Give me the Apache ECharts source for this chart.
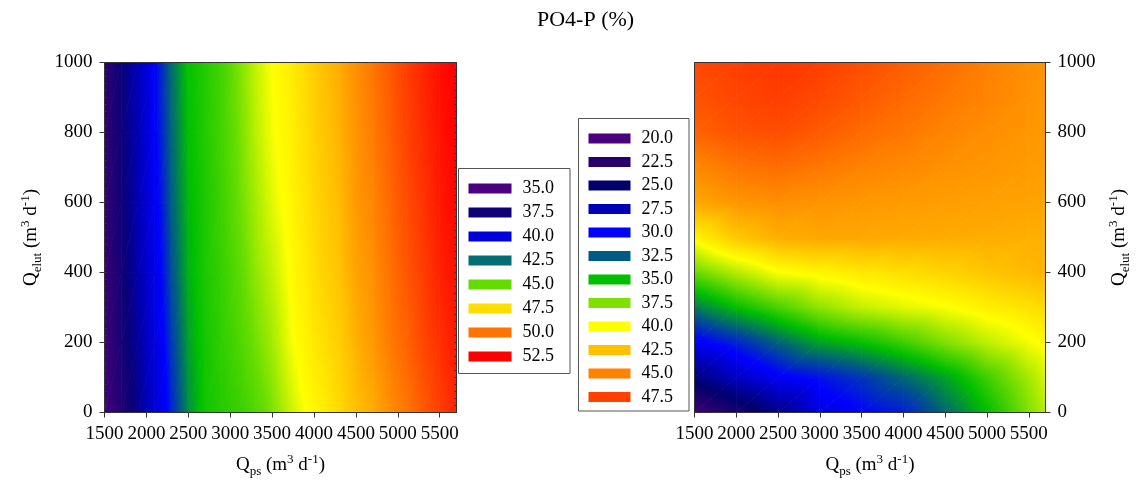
<!DOCTYPE html>
<html>
<head>
<meta charset="utf-8">
<script src="https://cdn.jsdelivr.net/npm/echarts@6/dist/echarts.min.js"></script>
<style>html,body{margin:0;padding:0;background:#fff}#main{width:1138px;height:484px}</style>
</head>
<body>
<div id="main"></div>
<script>
// --- data ---
var xTicks = [1500, 2000, 2500, 3000, 3500, 4000, 4500, 5000, 5500];
var yTicks = [0, 200, 400, 600, 800, 1000];

// left panel: PO4-P (%) on a grid of Qps (x) by Qelut (y)
var xLeft = [1500, 1700, 1900, 2100, 2300, 2500, 2700, 2900, 3100, 3300, 3500, 3700, 3900, 4100, 4300, 4500, 4700, 4900, 5100, 5300, 5500, 5700];
var yLeft = [0, 200, 400, 600, 800, 1000];
var zLeft = [
    [35.3, 36.6, 38.0, 39.7, 41.5, 42.9, 43.7, 44.0, 44.3, 44.7, 45.2, 45.9, 46.5, 47.0, 47.7, 48.5, 48.9, 49.5, 50.0, 50.6, 51.2, 51.7],
    [35.5, 36.9, 38.3, 40.1, 41.8, 43.1, 43.8, 44.2, 44.6, 45.1, 45.6, 46.3, 46.9, 47.5, 48.1, 48.8, 49.3, 49.9, 50.4, 51.0, 51.5, 52.0],
    [35.7, 37.1, 38.6, 40.4, 42.1, 43.3, 43.9, 44.3, 44.8, 45.4, 45.9, 46.5, 47.2, 47.9, 48.4, 49.1, 49.5, 50.1, 50.7, 51.2, 51.8, 52.2],
    [35.8, 37.3, 38.8, 40.7, 42.3, 43.4, 43.9, 44.4, 45.0, 45.6, 46.2, 46.7, 47.4, 48.1, 48.6, 49.3, 49.7, 50.3, 50.9, 51.4, 52.0, 52.4],
    [35.9, 37.4, 38.9, 40.9, 42.4, 43.5, 44.0, 44.5, 45.1, 45.8, 46.4, 46.9, 47.6, 48.3, 48.8, 49.4, 49.9, 50.5, 51.1, 51.6, 52.1, 52.5],
    [36.0, 37.5, 39.0, 41.0, 42.5, 43.6, 44.0, 44.5, 45.2, 45.9, 46.5, 47.0, 47.7, 48.5, 48.9, 49.5, 50.0, 50.6, 51.2, 51.7, 52.2, 52.6]
];
var levelsLeft = [35, 37.5, 40, 42.5, 45, 47.5, 50, 52.5];

// right panel
var xRight = [1500, 2000, 2500, 3000, 3500, 4000, 4500, 5000, 5500, 5700];
var yRight = [0, 100, 200, 300, 400, 500, 600, 700, 800, 900, 1000];
var zRight = [
    [21.0, 23.5, 26.0, 29.0, 30.0, 30.8, 32.8, 35.0, 37.5, 38.6],
    [25.6, 28.0, 29.7, 30.5, 31.5, 32.8, 34.3, 36.2, 38.2, 39.2],
    [29.6, 31.0, 32.7, 34.3, 35.1, 36.2, 37.5, 38.7, 39.8, 40.2],
    [33.3, 35.0, 36.4, 37.8, 38.8, 39.4, 39.9, 40.6, 41.2, 41.5],
    [37.0, 38.5, 39.9, 40.4, 40.9, 41.3, 41.7, 42.3, 42.8, 43.0],
    [40.4, 42.2, 43.2, 43.5, 43.5, 43.4, 43.3, 43.3, 43.2, 43.2],
    [43.5, 44.2, 44.5, 44.3, 44.1, 44.0, 43.9, 43.8, 43.7, 43.6],
    [44.7, 45.5, 45.8, 45.4, 45.0, 44.7, 44.4, 44.2, 44.0, 43.9],
    [46.2, 46.8, 47.0, 46.5, 45.9, 45.4, 44.9, 44.5, 44.2, 44.1],
    [46.8, 47.3, 47.6, 47.2, 46.6, 46.0, 45.4, 44.9, 44.4, 44.2],
    [47.2, 47.6, 47.9, 47.6, 47.0, 46.4, 45.8, 45.1, 44.5, 44.3]
];
var levelsRight = [20, 22.5, 25, 27.5, 30, 32.5, 35, 37.5, 40, 42.5, 45, 47.5];

// --- styles ---
var colorsLeft = ['#4b0082', '#0f0078', '#0000dc', '#006e73', '#64dc00', '#ffde00', '#ff7300', '#ff0000'];
var colorsRight = ['#4b007d', '#28006e', '#00006e', '#0000b4', '#0000ff', '#005a82', '#00be00', '#80e000', '#ffff00', '#ffc000', '#ff8200', '#ff4000'];
var rampLeft = [[35, '#4b0082'], [36.25, '#2a0075'], [37.5, '#0a0078'], [38.75, '#0000b0'], [40, '#0000dc'], [41, '#0000ff'],
    [42.5, '#006d6d'], [43.5, '#00c000'], [45, '#66dd00'], [46.5, '#ffff00'], [47.5, '#ffe000'], [48.5, '#ffc000'], [50, '#ff7700'], [52.5, '#ff0000']];
var rampRight = [[20, '#4b0082'], [22.5, '#28006e'], [25, '#00006e'], [27.5, '#0000b4'], [30, '#0000ff'], [32.5, '#005a82'],
    [35, '#00be00'], [37.5, '#80e000'], [40, '#ffff00'], [42.5, '#ffc000'], [45, '#ff8200'], [47.5, '#ff4000'], [50, '#ff0000']];

var serif = 'Liberation Serif';
var rich = {
    t: {fontFamily: serif, fontSize: 19, lineHeight: 22, color: '#000'},
    sub: {fontFamily: serif, fontSize: 13, lineHeight: 13, padding: [12, 0, 0, 0], color: '#000'},
    sup: {fontFamily: serif, fontSize: 13, lineHeight: 13, padding: [0, 0, 12, 0], color: '#000'}
};
var qps = '{t|Q}{sub|ps}{t| (m}{sup|3}{t| d}{sup|-1}{t|)}';
var qelut = '{t|Q}{sub|elut}{t| (m}{sup|3}{t| d}{sup|-1}{t|)}';

function hexRgb(h) {
    return [parseInt(h.substr(1, 2), 16), parseInt(h.substr(3, 2), 16), parseInt(h.substr(5, 2), 16)];
}
function colorAt(ramp, v) {
    if (v <= ramp[0][0]) return ramp[0][1];
    for (var k = 1; k < ramp.length; k++) {
        if (v <= ramp[k][0]) {
            var t = (v - ramp[k - 1][0]) / (ramp[k][0] - ramp[k - 1][0]);
            var a = hexRgb(ramp[k - 1][1]), b = hexRgb(ramp[k][1]);
            return 'rgb(' + [0, 1, 2].map(function (c) { return Math.round(a[c] + (b[c] - a[c]) * t); }).join(',') + ')';
        }
    }
    return ramp[ramp.length - 1][1];
}
// one shaded triangle: linear gradient along the value gradient, colour stops from the ramp
function tri(a, b, c, ramp) {
    var e1x = b[0] - a[0], e1y = b[1] - a[1], e2x = c[0] - a[0], e2y = c[1] - a[1];
    var d1 = b[2] - a[2], d2 = c[2] - a[2];
    var det = e1x * e2y - e1y * e2x;
    var gx = (d1 * e2y - d2 * e1y) / det, gy = (d2 * e1x - d1 * e2x) / det;
    var g2 = gx * gx + gy * gy;
    var lo = Math.min(a[2], b[2], c[2]), hi = Math.max(a[2], b[2], c[2]);
    var fill;
    if (hi - lo < 1e-6 || g2 < 1e-12) {
        fill = colorAt(ramp, lo);
    } else {
        var s = (lo - a[2]) / g2, e = (hi - a[2]) / g2;
        var stops = [{offset: 0, color: colorAt(ramp, lo)}];
        ramp.forEach(function (r) {
            if (r[0] > lo && r[0] < hi) stops.push({offset: (r[0] - lo) / (hi - lo), color: r[1]});
        });
        stops.push({offset: 1, color: colorAt(ramp, hi)});
        fill = {type: 'linear', x: a[0] + gx * s, y: a[1] + gy * s, x2: a[0] + gx * e, y2: a[1] + gy * e, global: true, colorStops: stops};
    }
    return {type: 'polygon', silent: true, shape: {points: [[a[0], a[1]], [b[0], b[1]], [c[0], c[1]]]},
        style: {fill: fill, stroke: fill, lineWidth: 0.8}};
}
function fieldSeries(xs, ys, zs, ramp, gi, yi) {
    var data = [];
    ys.forEach(function (y, j) { xs.forEach(function (x, i) { data.push([x, y, zs[j][i]]); }); });
    return {
        type: 'custom', xAxisIndex: gi, yAxisIndex: yi, clip: true, z: 1, data: data,
        renderItem: function (params, api) {
            var n = xs.length, i = params.dataIndex % n, j = Math.floor(params.dataIndex / n);
            if (i >= n - 1 || j >= ys.length - 1) return;
            var p = function (a, b) { var c = api.coord([xs[a], ys[b]]); return [c[0], c[1], zs[b][a]]; };
            var p00 = p(i, j), p10 = p(i + 1, j), p01 = p(i, j + 1), p11 = p(i + 1, j + 1);
            return {type: 'group', children: [tri(p00, p10, p11, ramp), tri(p00, p11, p01, ramp)]};
        }
    };
}
function xAxisFor(gi) {
    return {
        type: 'value', gridIndex: gi, min: 1500, max: 5700, interval: 500, z: 5,
        name: qps, nameLocation: 'middle', nameGap: 42, nameTextStyle: {rich: rich},
        axisLine: {show: true, onZero: false, lineStyle: {color: '#333'}},
        axisTick: {show: true, length: 5, customValues: xTicks, lineStyle: {color: '#333'}},
        axisLabel: {customValues: xTicks, margin: 12, fontFamily: serif, fontSize: 19, color: '#000', formatter: String},
        splitLine: {show: false}
    };
}
function yAxisFor(gi, pos, gap) {
    return {
        type: 'value', gridIndex: gi, position: pos, min: 0, max: 1000, interval: 200, z: 5,
        name: qelut, nameLocation: 'middle', nameGap: gap, nameTextStyle: {rich: rich},
        axisLine: {show: true, onZero: false, lineStyle: {color: '#333'}},
        axisTick: {show: true, length: 5, customValues: yTicks, lineStyle: {color: '#333'}},
        axisLabel: {customValues: yTicks, margin: 12, fontFamily: serif, fontSize: 19, color: '#000', formatter: String},
        splitLine: {show: false}
    };
}
function minorAxis(gi, pos) {
    return {
        type: 'value', gridIndex: gi, position: pos, min: 0, max: 1000, interval: 20, z: 5,
        axisLine: {show: false}, axisLabel: {show: false}, splitLine: {show: false},
        axisTick: {show: true, inside: true, length: 2, lineStyle: {color: '#333'}}
    };
}
function legendBox(levels, colors, extra) {
    return Object.assign({
        type: 'piecewise', seriesIndex: [], orient: 'vertical', inverse: true, selectedMode: false,
        align: 'left', itemSymbol: 'rect', itemWidth: 43, itemHeight: 10, textGap: 11,
        backgroundColor: '#fff', borderColor: '#555', borderWidth: 1,
        textStyle: {fontFamily: serif, fontSize: 18, color: '#000'},
        pieces: levels.map(function (v, i) { return {value: v, label: v.toFixed(1), color: colors[i]}; })
    }, extra);
}

var myChart = echarts.init(document.getElementById('main'));
var option = {
    animation: false,
    title: {text: 'PO4-P (%)', left: 537, top: 9, padding: 0,
        textStyle: {fontFamily: serif, fontSize: 22, fontWeight: 'normal', color: '#000'}},
    grid: [
        {left: 104.5, top: 62.5, width: 352, height: 350, show: true, borderColor: '#333', borderWidth: 1,
            backgroundColor: 'transparent', z: 5, outerBoundsMode: 'none'},
        {left: 694.5, top: 62.5, width: 351, height: 350, show: true, borderColor: '#333', borderWidth: 1,
            backgroundColor: 'transparent', z: 5, outerBoundsMode: 'none'}
    ],
    xAxis: [xAxisFor(0), xAxisFor(1)],
    yAxis: [yAxisFor(0, 'left', 62), minorAxis(0, 'left'), minorAxis(0, 'right'), yAxisFor(1, 'right', 63)],
    visualMap: [
        legendBox(levelsLeft, colorsLeft, {left: 458, top: 168, itemGap: 6, padding: [11, 16, 8, 10]}),
        legendBox(levelsRight, colorsRight, {left: 578, top: 118, itemWidth: 42, itemGap: 5.5, padding: [11, 16, 5, 10]})
    ],
    series: [
        fieldSeries(xLeft, yLeft, zLeft, rampLeft, 0, 0),
        fieldSeries(xRight, yRight, zRight, rampRight, 1, 3)
    ]
};
myChart.setOption(option);
</script>
</body>
</html>
